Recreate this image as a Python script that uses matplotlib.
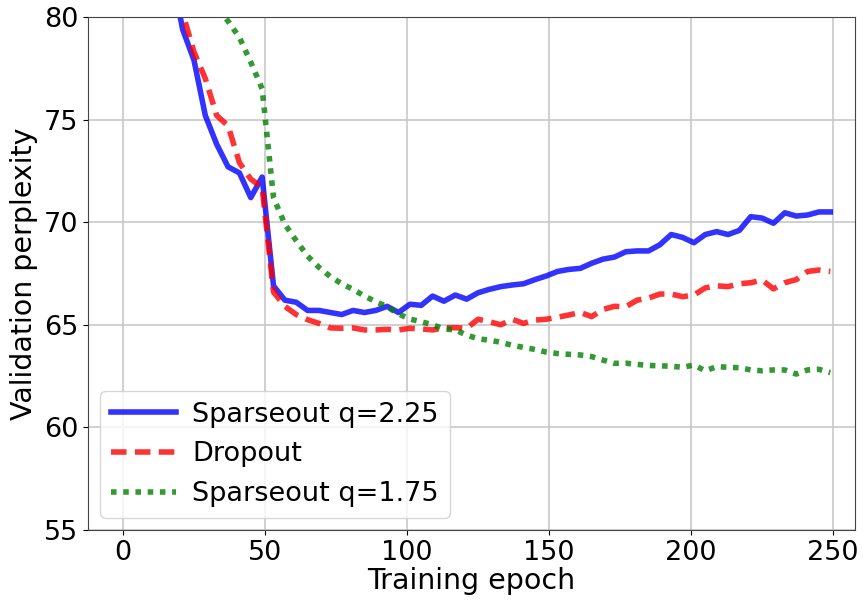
import numpy as np
import matplotlib
matplotlib.use('Agg')
import matplotlib.pyplot as plt

# epochs where validation was evaluated
epochs = np.arange(1, 250, 4)

sparse_225 = [120, 100, 92, 86.5, 82.3, 79.4, 77.9, 75.2, 73.8, 72.7, 72.4, 71.2, 72.2,
              66.9, 66.2, 66.1, 65.7, 65.7, 65.6, 65.5, 65.7, 65.6, 65.7, 65.9, 65.6,
              66.0, 65.95, 66.4, 66.15, 66.45, 66.25, 66.56, 66.73, 66.86, 66.94, 67.0,
              67.2, 67.38, 67.6, 67.7, 67.75, 68.0, 68.2, 68.3, 68.56, 68.6, 68.6, 68.9,
              69.4, 69.26, 69.0, 69.4, 69.54, 69.4, 69.6, 70.27, 70.2, 69.95, 70.46,
              70.3, 70.35, 70.5, 70.5]

dropout = [120, 100, 93, 87, 83, 80.2, 78.3, 77.0, 75.2, 74.7, 72.9, 72.1, 71.7,
           66.6, 65.9, 65.5, 65.25, 65.07, 64.85, 64.83, 64.85, 64.75, 64.75, 64.78,
           64.75, 64.83, 64.8, 64.75, 64.85, 64.86, 64.83, 65.27, 65.15, 65.0, 65.27,
           65.07, 65.23, 65.27, 65.37, 65.48, 65.6, 65.4, 65.75, 65.9, 65.88, 66.2,
           66.3, 66.5, 66.5, 66.37, 66.45, 66.8, 66.9, 66.86, 67.0, 67.05, 67.18,
           66.75, 67.05, 67.2, 67.6, 67.67, 67.6]

sparse_175 = [120, 105, 97, 92, 88, 85.5, 83.5, 81.7, 80.4, 79.8, 79.0, 77.8, 76.5,
              71.2, 69.9, 69.1, 68.35, 67.8, 67.35, 67.0, 66.73, 66.4, 66.13, 65.88,
              65.53, 65.28, 65.15, 65.0, 64.8, 64.75, 64.5, 64.32, 64.25, 64.15, 64.0,
              63.9, 63.8, 63.67, 63.6, 63.56, 63.53, 63.45, 63.28, 63.12, 63.13, 63.07,
              63.02, 63.0, 62.98, 62.93, 63.04, 62.76, 62.96, 62.93, 62.91, 62.8, 62.76,
              62.8, 62.8, 62.6, 62.8, 62.83, 62.67]

fig = plt.figure(figsize=(8.68, 6.02), dpi=100)
ax = fig.add_axes([88/868, 1 - 530/602, (855 - 88)/868, (530 - 17)/602])

ax.plot(epochs, sparse_225, 'b-', lw=4, alpha=0.8, label='Sparseout q=2.25')
ax.plot(epochs, dropout, 'r--', lw=4, alpha=0.8, dashes=(2.8, 1.5), label='Dropout')
ax.plot(epochs, sparse_175, 'g:', lw=4, alpha=0.8, dashes=(1, 1.2), label='Sparseout q=1.75')

ax.set_xlim(-12.3, 257.7)
ax.set_ylim(55, 80)
ax.set_xticks([0, 50, 100, 150, 200, 250])
ax.set_yticks([55, 60, 65, 70, 75, 80])
ax.grid(True, color='#c8c8c8', lw=1.2)
ax.tick_params(labelsize=19.5)
for s in ax.spines.values():
    s.set_color('#444444')
ax.set_xlabel('Training epoch', fontsize=20.5, labelpad=1)
ax.set_ylabel('Validation perplexity', fontsize=20.5, labelpad=4)
ax.legend(loc='lower left', fontsize=19.5, handlelength=2.4, handletextpad=0.6,
          borderaxespad=0.45)

fig.savefig('out.png', dpi=100)
